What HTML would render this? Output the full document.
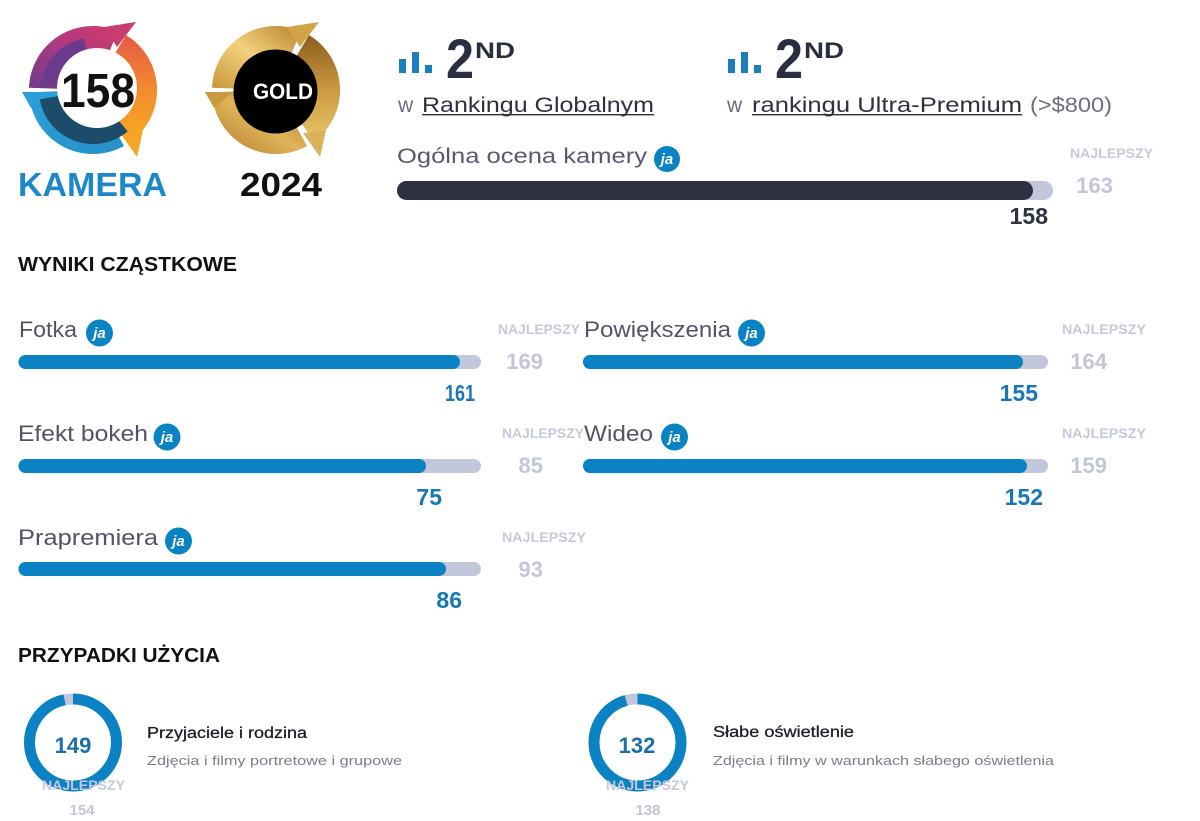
<!DOCTYPE html>
<html><head><meta charset="utf-8"><style>
html,body{margin:0;padding:0;background:#fff;}
svg{display:block;}
text{font-family:"Liberation Sans",sans-serif;}
</style></head><body>
<svg width="1200" height="821" viewBox="0 0 1200 821" xmlns="http://www.w3.org/2000/svg">
<defs>
<linearGradient id="mag" x1="0" y1="1" x2="1" y2="0"><stop offset="0" stop-color="#6f3a8e"/><stop offset="0.6" stop-color="#b33a7d"/><stop offset="1" stop-color="#d23c6a"/></linearGradient>
<linearGradient id="org" x1="0" y1="0" x2="0" y2="1"><stop offset="0" stop-color="#e65a44"/><stop offset="0.5" stop-color="#f08a30"/><stop offset="1" stop-color="#f7aa22"/></linearGradient>
<linearGradient id="blu" x1="0" y1="0" x2="1" y2="1"><stop offset="0" stop-color="#2a9fda"/><stop offset="1" stop-color="#2890c8"/></linearGradient>
<linearGradient id="g1" x1="0" y1="1" x2="1" y2="0"><stop offset="0" stop-color="#c8953a"/><stop offset="0.5" stop-color="#f2d27c"/><stop offset="1" stop-color="#b88230"/></linearGradient>
<linearGradient id="g2" x1="0" y1="0" x2="0" y2="1"><stop offset="0" stop-color="#8c5c1e"/><stop offset="0.5" stop-color="#c9983f"/><stop offset="1" stop-color="#e8c568"/></linearGradient>
<linearGradient id="g3" x1="1" y1="0" x2="0" y2="1"><stop offset="0" stop-color="#a06a22"/><stop offset="0.5" stop-color="#e0b459"/><stop offset="1" stop-color="#b07a2c"/></linearGradient>
</defs>

<!-- Logo 1 -->
<g>
<path d="M93,90 L29.0,87.8 A64,64 0 0 1 118.0,31.1 Z" fill="url(#mag)"/>
<path d="M104,27 L136,22 L117,47 Z" fill="#c93c70"/>
<path d="M93,90 L126.0,35.1 A64,64 0 0 1 131.5,141.1 Z" fill="url(#org)"/>
<path d="M143,130 L137,157 L120,133 Z" fill="#f6a623"/>
<path d="M93,90 L124.0,146.0 A64,64 0 0 1 29.0,92.2 Z" fill="url(#blu)"/>
<path d="M22,92 L50,92 L31,108 Z" fill="#2a9fda"/>
<path d="M93,90 L127.7,131.4 A54,54 0 0 1 39.8,99.4 Z" fill="#1d4c6a"/>
<path d="M93,90 L41.2,85.5 A52,52 0 0 1 84.0,38.8 Z" fill="#6b3a8d"/>
<circle cx="97" cy="88" r="40" fill="#fff"/>
<text x="61" y="107" font-size="48" font-weight="bold" fill="#111" textLength="74" lengthAdjust="spacingAndGlyphs">158</text>
</g>
<text x="18" y="196" font-size="33" font-weight="bold" fill="#1c88c7" textLength="149" lengthAdjust="spacingAndGlyphs">KAMERA</text>

<!-- Logo 2 gold -->
<g transform="translate(183,0)">
<path d="M93,90 L29.0,87.8 A64,64 0 0 1 118.0,31.1 Z" fill="url(#g1)"/>
<path d="M104,27 L136,22 L117,47 Z" fill="#d2a448"/>
<path d="M93,90 L126.0,35.1 A64,64 0 0 1 131.5,141.1 Z" fill="url(#g2)"/>
<path d="M143,130 L137,157 L120,133 Z" fill="#d9b25a"/>
<path d="M93,90 L124.0,146.0 A64,64 0 0 1 29.0,92.2 Z" fill="url(#g3)"/>
<path d="M22,92 L50,92 L31,108 Z" fill="#c99a42"/>
<circle cx="92.5" cy="91.5" r="42" fill="#000"/>
<text x="70" y="99" font-size="22" font-weight="bold" fill="#fff" textLength="60" lengthAdjust="spacingAndGlyphs">GOLD</text>
</g>
<text x="240" y="196" font-size="33" font-weight="bold" fill="#111" textLength="82" lengthAdjust="spacingAndGlyphs">2024</text>

<!-- Ranking 1 -->
<rect x="399" y="59" width="7" height="14" fill="#1a80bd"/>
<rect x="412" y="52" width="7" height="21" fill="#1a80bd"/>
<rect x="425" y="65" width="7" height="8" fill="#1a80bd"/>
<text x="446" y="78" font-size="56" font-weight="bold" fill="#2b2e40" textLength="28" lengthAdjust="spacingAndGlyphs">2</text>
<text x="475" y="58" font-size="22" font-weight="bold" fill="#2b2e40" textLength="40" lengthAdjust="spacingAndGlyphs">ND</text>
<text x="398" y="112" font-size="21" fill="#6d6d80">w</text>
<text x="422" y="112" font-size="21" fill="#2d3142" textLength="232" lengthAdjust="spacingAndGlyphs">Rankingu Globalnym</text>
<rect x="422" y="114" width="232" height="1.4" fill="#2d3142"/>

<!-- Ranking 2 -->
<rect x="728" y="59" width="7" height="14" fill="#1a80bd"/>
<rect x="741" y="52" width="7" height="21" fill="#1a80bd"/>
<rect x="754" y="65" width="7" height="8" fill="#1a80bd"/>
<text x="775" y="78" font-size="56" font-weight="bold" fill="#2b2e40" textLength="28" lengthAdjust="spacingAndGlyphs">2</text>
<text x="804" y="58" font-size="22" font-weight="bold" fill="#2b2e40" textLength="40" lengthAdjust="spacingAndGlyphs">ND</text>
<text x="727" y="112" font-size="21" fill="#6d6d80">w</text>
<text x="752" y="112" font-size="21" fill="#2d3142" textLength="270" lengthAdjust="spacingAndGlyphs">rankingu Ultra-Premium</text>
<rect x="752" y="114" width="270" height="1.4" fill="#2d3142"/>
<text x="1030" y="112" font-size="21" fill="#6d6d80" textLength="82" lengthAdjust="spacingAndGlyphs">(&gt;$800)</text>

<!-- Overall -->
<text x="397" y="163" font-size="21" fill="#5a5a6e" textLength="250" lengthAdjust="spacingAndGlyphs">Ogólna ocena kamery</text>
<circle cx="667" cy="159" r="13" fill="#0a83c5"/>
<text x="667" y="164" font-size="15" font-weight="bold" font-style="italic" fill="#fff" text-anchor="middle">ja</text>
<rect x="397" y="181" width="656" height="19" rx="9.5" fill="#c3c7db"/>
<rect x="397" y="181" width="636" height="19" rx="9.5" fill="#2e3140"/>
<text x="1048" y="224" font-size="23" font-weight="bold" fill="#2e3140" text-anchor="end">158</text>
<text x="1070" y="158" font-size="14" font-weight="bold" fill="#c6c9d9" textLength="83" lengthAdjust="spacingAndGlyphs">NAJLEPSZY</text>
<text x="1113" y="193" font-size="22" font-weight="bold" fill="#c3c6d8" text-anchor="end">163</text>

<!-- Section title -->
<text x="18" y="271" font-size="20" font-weight="bold" fill="#111" textLength="219" lengthAdjust="spacingAndGlyphs">WYNIKI CZĄSTKOWE</text>

<!-- Row 1 left: Fotka -->
<text x="19" y="337" font-size="22" fill="#545366" textLength="58" lengthAdjust="spacingAndGlyphs">Fotka</text>
<circle cx="99.5" cy="333" r="13.5" fill="#0a83c5"/>
<text x="99.5" y="338" font-size="15" font-weight="bold" font-style="italic" fill="#fff" text-anchor="middle">ja</text>
<rect x="18.5" y="355" width="462.5" height="14" rx="7" fill="#c3c7db"/>
<rect x="18.5" y="355" width="441.5" height="14" rx="7" fill="#0b82c4"/>
<text x="475" y="401" font-size="23" font-weight="bold" fill="#1877b4" text-anchor="end" textLength="30" lengthAdjust="spacingAndGlyphs">161</text>
<text x="498" y="334" font-size="14" font-weight="bold" fill="#c6c9d9" textLength="82" lengthAdjust="spacingAndGlyphs">NAJLEPSZY</text>
<text x="543" y="369" font-size="22" font-weight="bold" fill="#c3c6d8" text-anchor="end">169</text>

<!-- Row 1 right: Powiększenia -->
<text x="584" y="337" font-size="22" fill="#545366" textLength="147" lengthAdjust="spacingAndGlyphs">Powiększenia</text>
<circle cx="751.5" cy="333" r="13.5" fill="#0a83c5"/>
<text x="751.5" y="338" font-size="15" font-weight="bold" font-style="italic" fill="#fff" text-anchor="middle">ja</text>
<rect x="583" y="355" width="465" height="14" rx="7" fill="#c3c7db"/>
<rect x="583" y="355" width="440" height="14" rx="7" fill="#0b82c4"/>
<text x="1038" y="401" font-size="23" font-weight="bold" fill="#1877b4" text-anchor="end">155</text>
<text x="1062" y="334" font-size="14" font-weight="bold" fill="#c6c9d9" textLength="84" lengthAdjust="spacingAndGlyphs">NAJLEPSZY</text>
<text x="1107" y="369" font-size="22" font-weight="bold" fill="#c3c6d8" text-anchor="end">164</text>

<!-- Row 2 left: Efekt bokeh -->
<text x="18" y="441" font-size="22" fill="#545366" textLength="130" lengthAdjust="spacingAndGlyphs">Efekt bokeh</text>
<circle cx="167" cy="437" r="13.5" fill="#0a83c5"/>
<text x="167" y="442" font-size="15" font-weight="bold" font-style="italic" fill="#fff" text-anchor="middle">ja</text>
<rect x="18.5" y="459" width="462.5" height="14" rx="7" fill="#c3c7db"/>
<rect x="18.5" y="459" width="407.5" height="14" rx="7" fill="#0b82c4"/>
<text x="442" y="505" font-size="23" font-weight="bold" fill="#1877b4" text-anchor="end">75</text>
<text x="502" y="438" font-size="14" font-weight="bold" fill="#c6c9d9" textLength="82" lengthAdjust="spacingAndGlyphs">NAJLEPSZY</text>
<text x="543" y="473" font-size="22" font-weight="bold" fill="#c3c6d8" text-anchor="end">85</text>

<!-- Row 2 right: Wideo -->
<text x="584" y="441" font-size="22" fill="#545366" textLength="69" lengthAdjust="spacingAndGlyphs">Wideo</text>
<circle cx="674.5" cy="437" r="13.5" fill="#0a83c5"/>
<text x="674.5" y="442" font-size="15" font-weight="bold" font-style="italic" fill="#fff" text-anchor="middle">ja</text>
<rect x="583" y="459" width="465" height="14" rx="7" fill="#c3c7db"/>
<rect x="583" y="459" width="444" height="14" rx="7" fill="#0b82c4"/>
<text x="1043" y="505" font-size="23" font-weight="bold" fill="#1877b4" text-anchor="end">152</text>
<text x="1062" y="438" font-size="14" font-weight="bold" fill="#c6c9d9" textLength="84" lengthAdjust="spacingAndGlyphs">NAJLEPSZY</text>
<text x="1107" y="473" font-size="22" font-weight="bold" fill="#c3c6d8" text-anchor="end">159</text>

<!-- Row 3 left: Prapremiera -->
<text x="18" y="545" font-size="22" fill="#545366" textLength="140" lengthAdjust="spacingAndGlyphs">Prapremiera</text>
<circle cx="178.5" cy="541" r="13.5" fill="#0a83c5"/>
<text x="178.5" y="546" font-size="15" font-weight="bold" font-style="italic" fill="#fff" text-anchor="middle">ja</text>
<rect x="18.5" y="562" width="462.5" height="14" rx="7" fill="#c3c7db"/>
<rect x="18.5" y="562" width="427.5" height="14" rx="7" fill="#0b82c4"/>
<text x="462" y="608" font-size="23" font-weight="bold" fill="#1877b4" text-anchor="end">86</text>
<text x="502" y="542" font-size="14" font-weight="bold" fill="#c6c9d9" textLength="84" lengthAdjust="spacingAndGlyphs">NAJLEPSZY</text>
<text x="543" y="577" font-size="22" font-weight="bold" fill="#c3c6d8" text-anchor="end">93</text>

<!-- Use cases -->
<text x="18" y="662" font-size="20" font-weight="bold" fill="#111" textLength="202" lengthAdjust="spacingAndGlyphs">PRZYPADKI UŻYCIA</text>

<circle cx="73" cy="742.5" r="43.5" fill="none" stroke="#c3c7db" stroke-width="11"/>
<circle cx="73" cy="742.5" r="43.5" fill="none" stroke="#0b82c4" stroke-width="11" stroke-dasharray="264.4 400" transform="rotate(-90 73 742.5)"/>
<text x="73" y="753" font-size="22" font-weight="bold" fill="#1b6fa6" text-anchor="middle">149</text>
<text x="83.5" y="790" font-size="14" font-weight="bold" fill="#c6c9d9" text-anchor="middle" textLength="83" lengthAdjust="spacingAndGlyphs">NAJLEPSZY</text>
<text x="82" y="815" font-size="15" font-weight="bold" fill="#c3c6d8" text-anchor="middle">154</text>
<text x="147" y="738" font-size="16" fill="#1e1e28" stroke="#1e1e28" stroke-width="0.3" textLength="160" lengthAdjust="spacingAndGlyphs">Przyjaciele i rodzina</text>
<text x="147" y="765" font-size="13" fill="#7d7b8e" textLength="255" lengthAdjust="spacingAndGlyphs">Zdjęcia i filmy portretowe i grupowe</text>

<circle cx="637.5" cy="742.5" r="43.5" fill="none" stroke="#c3c7db" stroke-width="11"/>
<circle cx="637.5" cy="742.5" r="43.5" fill="none" stroke="#0b82c4" stroke-width="11" stroke-dasharray="261.4 400" transform="rotate(-90 637.5 742.5)"/>
<text x="637" y="753" font-size="22" font-weight="bold" fill="#1b6fa6" text-anchor="middle">132</text>
<text x="647.5" y="790" font-size="14" font-weight="bold" fill="#c6c9d9" text-anchor="middle" textLength="83" lengthAdjust="spacingAndGlyphs">NAJLEPSZY</text>
<text x="648" y="815" font-size="15" font-weight="bold" fill="#c3c6d8" text-anchor="middle">138</text>
<text x="713" y="737" font-size="16" fill="#1e1e28" stroke="#1e1e28" stroke-width="0.3" textLength="141" lengthAdjust="spacingAndGlyphs">Słabe oświetlenie</text>
<text x="713" y="765" font-size="13" fill="#7d7b8e" textLength="341" lengthAdjust="spacingAndGlyphs">Zdjęcia i filmy w warunkach słabego oświetlenia</text>
</svg>
</body></html>
